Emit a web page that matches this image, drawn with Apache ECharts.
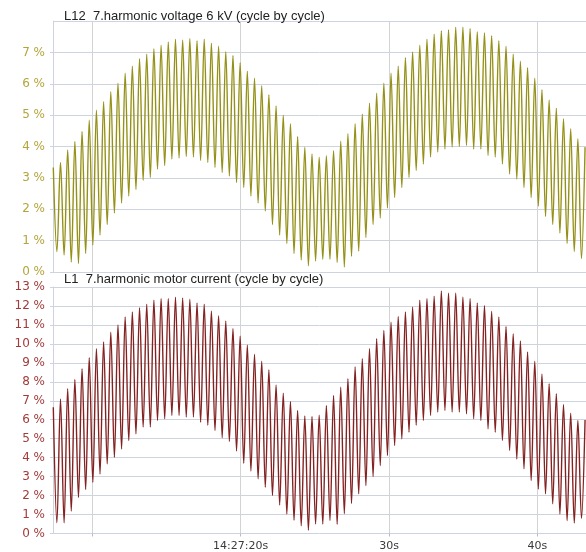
<!DOCTYPE html>
<html>
<head>
<meta charset="utf-8">
<script src="https://cdn.jsdelivr.net/npm/echarts@6/dist/echarts.min.js"></script>
<style>
  html, body { margin: 0; padding: 0; background: #fff; }
  #chart { width: 586px; height: 552px; }
</style>
</head>
<body>
<div id="chart"></div>
<script>
// Cycle-by-cycle 7th harmonic levels, stored as the per-cycle maximum and minimum (%).
// Time axis in seconds after 14:27:00.
const timeStart = 7.371;     // time of the first recorded maximum
const cycleSeconds = 0.4844; // one max-to-max swing

const voltagePeaks = [
  3.33, 3.49, 3.89, 4.16, 4.48, 4.84, 5.16, 5.43, 5.75, 6.02, 6.34, 6.56, 6.80, 6.94, 7.12, 7.23, 7.33, 7.42, 7.40,
  7.44, 7.37, 7.42, 7.29, 7.20, 7.02, 6.90, 6.67, 6.40, 6.18, 5.94, 5.65, 5.29, 5.00, 4.73, 4.32, 3.98, 3.76, 3.66,
  3.71, 3.87, 4.17, 4.41, 4.73, 5.03, 5.38, 5.70, 6.02, 6.34, 6.56, 6.83, 7.01, 7.23, 7.42, 7.58, 7.69, 7.72, 7.80,
  7.80, 7.76, 7.66, 7.63, 7.53, 7.37, 7.20, 6.94, 6.72, 6.51, 6.18, 5.81, 5.48, 5.22, 4.89, 4.57, 4.25, 3.98
];
const voltageTroughs = [
  0.65, 0.54, 0.32, 0.27, 0.59, 0.86, 1.18, 1.51, 1.88, 2.20, 2.42, 2.63, 2.92, 3.01, 3.28, 3.39, 3.60, 3.63, 3.68,
  3.66, 3.55, 3.49, 3.33, 3.17, 3.06, 2.85, 2.69, 2.42, 2.20, 1.94, 1.51, 1.18, 0.91, 0.59, 0.38, 0.20, 0.35,
  0.40, 0.40, 0.30, 0.16, 0.50, 0.67, 1.10, 1.51, 1.72, 2.04, 2.37, 2.69, 3.01, 3.23, 3.44, 3.66, 3.82, 3.92, 3.98,
  4.00, 4.03, 3.92, 3.92, 3.71, 3.66, 3.44, 3.12, 2.96, 2.69, 2.37, 2.10, 1.77, 1.51, 1.24, 0.91, 0.65, 0.43
];
const currentPeaks = [
  6.66, 7.10, 7.63, 8.12, 8.69, 9.27, 9.75, 10.10, 10.62, 11.00, 11.42, 11.68, 11.91, 12.09, 12.30, 12.39, 12.40, 12.46, 12.42,
  12.36, 12.16, 12.09, 11.74, 11.48, 11.21, 10.82, 10.40, 9.95, 9.46, 9.09, 8.64, 7.84, 7.40, 6.96, 6.49, 6.20, 6.17, 6.24,
  6.75, 7.28, 7.72, 8.16, 8.78, 9.22, 9.75, 10.27, 10.71, 11.15, 11.45, 11.68, 11.95, 12.30, 12.39, 12.51, 12.79, 12.68,
  12.68, 12.48, 12.39, 12.16, 12.03, 11.73, 11.42, 10.92, 10.54, 10.15, 9.57, 9.09, 8.42, 7.90, 7.37, 6.80, 6.35, 5.96, 5.99
];
const currentTroughs = [
  0.57, 0.57, 1.18, 1.90, 2.32, 2.70, 3.14, 3.67, 4.02, 4.46, 4.90, 5.26, 5.61, 5.61, 5.96, 6.05, 6.22, 6.22, 6.14,
  6.14, 5.87, 5.70, 5.43, 5.05, 4.85, 4.35, 3.70, 3.30, 2.88, 2.44, 2.00, 1.50, 1.03, 0.70, 0.41, 0.17, 0.50,
  0.50, 0.68, 0.48, 1.05, 1.58, 2.10, 2.53, 3.00, 3.58, 4.11, 4.64, 4.99, 5.34, 5.70, 5.96, 6.22, 6.40, 6.49, 6.40,
  6.40, 6.31, 6.05, 5.96, 5.52, 5.34, 4.90, 4.37, 3.93, 3.41, 2.79, 2.35, 2.09, 1.56, 1.03, 0.68, 0.55, 0.80
];

const timeTickValues = [10, 20, 30, 40];
const timeTickLabels = ['', '14:27:20s', '30s', '40s'];
const voltageTitle = 'L12  7.harmonic voltage 6 kV (cycle by cycle)';
const currentTitle = 'L1  7.harmonic motor current (cycle by cycle)';

// Interleave maxima and minima into one time-ordered trace.
function buildTrace(peaks, troughs) {
  const pts = [];
  for (let i = 0; i < peaks.length; i++) {
    pts.push([timeStart + i * cycleSeconds, peaks[i]]);
    if (i < troughs.length) pts.push([timeStart + (i + 0.5) * cycleSeconds, troughs[i]]);
  }
  return pts;
}

const gridH = '#cdd4de';
const gridV = '#d3d3d3';

function timeLabel(v) {
  const k = timeTickValues.findIndex(t => Math.abs(t - v) < 1e-6);
  return k >= 0 ? timeTickLabels[k] : '';
}

function xAxisFor(gridIndex, withLabels) {
  return {
    type: 'value', gridIndex: gridIndex, min: 7.35, max: 43.28,
    axisLine: { show: false },
    axisTick: { show: withLabels, length: 3, lineStyle: { color: '#bbbbbb' } },
    axisLabel: {
      show: withLabels, showMinLabel: false, showMaxLabel: false, margin: 7,
      fontFamily: 'DejaVu Sans', fontSize: 11, color: '#3a3a3a',
      formatter: timeLabel
    },
    splitLine: { show: true, lineStyle: { color: gridV, width: 1 } }
  };
}

function yAxisFor(gridIndex, max, color, showTop) {
  return {
    type: 'value', gridIndex: gridIndex, min: 0, max: max, interval: 1,
    axisLine: { show: true, lineStyle: { color: gridH } },
    axisTick: { show: true, length: 3, lineStyle: { color: gridH } },
    axisLabel: {
      showMaxLabel: showTop, margin: 8,
      fontFamily: 'DejaVu Sans', fontSize: 12, color: color,
      formatter: v => v + ' %'
    },
    splitLine: { show: true, lineStyle: { color: gridH, width: 1 } }
  };
}

const titleText = { fontFamily: 'Liberation Sans', fontSize: 13, fontWeight: 'normal', color: '#222' };

const chart = echarts.init(document.getElementById('chart'), null, { renderer: 'canvas' });
chart.setOption({
  animation: false,
  backgroundColor: '#ffffff',
  title: [
    { text: voltageTitle, left: 64, top: 10, padding: 0, textStyle: titleText },
    { text: currentTitle, left: 64, top: 273, padding: 0, textStyle: titleText }
  ],
  grid: [
    { left: 53, width: 533, top: 21, height: 251 },
    { left: 53, width: 533, top: 287, height: 246.5 }
  ],
  xAxis: [xAxisFor(0, false), xAxisFor(1, true)],
  yAxis: [yAxisFor(0, 8, '#b3a53a', false), yAxisFor(1, 13, '#a03c3a', true)],
  series: [
    { type: 'line', xAxisIndex: 0, yAxisIndex: 0, data: buildTrace(voltagePeaks, voltageTroughs),
      showSymbol: false, sampling: null, smooth: 0.35,
      lineStyle: { color: '#959118', width: 1.4 } },
    { type: 'line', xAxisIndex: 1, yAxisIndex: 1, data: buildTrace(currentPeaks, currentTroughs),
      showSymbol: false, sampling: null, smooth: 0.35,
      lineStyle: { color: '#842222', width: 1.4 } }
  ]
});
</script>
</body>
</html>
